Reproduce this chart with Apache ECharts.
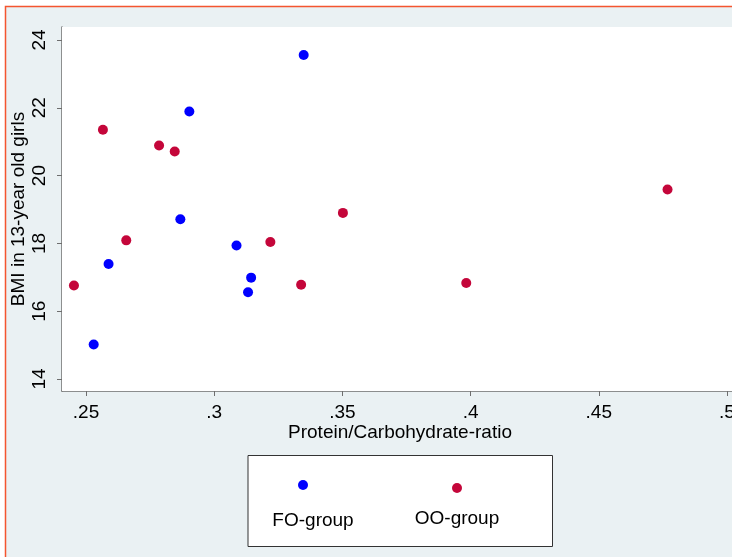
<!DOCTYPE html>
<html>
<head>
<meta charset="utf-8">
<script src="https://cdn.jsdelivr.net/npm/echarts@6/dist/echarts.min.js"></script>
<style>
html,body{margin:0;padding:0;overflow:hidden;background:#fff;}
#c{width:760px;height:580px;}
</style>
</head>
<body>
<div id="c"></div>
<script>
// FO-group: [Protein/Carbohydrate-ratio, BMI]
const foX = [0.2530, 0.2588, 0.2868, 0.2903, 0.3087, 0.3144, 0.3132, 0.3349];
const foY = [15.02, 17.39, 18.71, 21.89, 17.94, 16.99, 16.56, 23.56];
// OO-group
const ooX = [0.2453, 0.2566, 0.2657, 0.2785, 0.2846, 0.3219, 0.3339, 0.3502, 0.3983, 0.4768];
const ooY = [16.76, 21.35, 18.09, 20.89, 20.71, 18.04, 16.78, 18.90, 16.83, 19.59];
const xTicks = [0.25, 0.30, 0.35, 0.40, 0.45, 0.50];
const xTickLabels = ['.25', '.3', '.35', '.4', '.45', '.5'];
const yTicks = [14, 16, 18, 20, 22, 24];
const seriesNames = ['FO-group', 'OO-group'];
const xTitle = 'Protein/Carbohydrate-ratio';
const yTitle = 'BMI in 13-year old girls';

const FONT = '"Liberation Sans", Arial, Helvetica, sans-serif';
const BLUE = '#0000ff';
const RED = '#c4063a';

const chart = echarts.init(document.getElementById('c'), null, {renderer: 'canvas'});
const toPairs = (xs, ys) => xs.map((x, i) => [x, ys[i]]);

const option = {
  backgroundColor: '#ffffff',
  animation: false,
  grid: {
    left: 62, top: 27, width: 676, height: 364,
    containLabel: false, outerBoundsMode: 'none',
    show: true, backgroundColor: '#ffffff', borderWidth: 0, z: 1
  },
  xAxis: {
    type: 'value',
    min: 0.25 - 24 / 128.2 * 0.05,
    max: 0.25 + (738 - 86) / 128.2 * 0.05,
    name: xTitle,
    nameLocation: 'middle',
    nameGap: 32,
    nameMoveOverlap: false,
    nameTextStyle: {fontFamily: FONT, fontSize: 19, color: '#000'},
    axisLine: {show: true, onZero: false, lineStyle: {color: '#6e6e6e', width: 1.5}},
    axisTick: {show: true, length: 5, lineStyle: {color: '#6e6e6e', width: 1}, customValues: xTicks},
    axisLabel: {
      customValues: xTicks,
      fontFamily: FONT, fontSize: 19, color: '#000', margin: 12,
      formatter: v => { const i = xTicks.findIndex(t => Math.abs(t - v) < 1e-9); return i >= 0 ? xTickLabels[i] : ''; }
    },
    splitLine: {show: false}
  },
  yAxis: {
    type: 'value',
    min: 14 - 12 / 33.9,
    max: 24 + 13 / 33.9,
    name: yTitle,
    nameLocation: 'middle',
    nameGap: 34,
    nameMoveOverlap: false,
    nameRotate: 90,
    nameTextStyle: {fontFamily: FONT, fontSize: 19, color: '#000'},
    axisLine: {show: true, onZero: false, lineStyle: {color: '#6e6e6e', width: 1.5}},
    axisTick: {show: true, length: 5, lineStyle: {color: '#6e6e6e', width: 1}, customValues: yTicks},
    axisLabel: {
      customValues: yTicks,
      rotate: 90,
      fontFamily: FONT, fontSize: 19, color: '#000', margin: 13,
      formatter: v => String(Math.round(v))
    },
    splitLine: {show: true, lineStyle: {color: '#e6eef1', width: 1.5}}
  },
  series: [
    {
      name: seriesNames[0], type: 'scatter', symbol: 'circle', symbolSize: 10,
      itemStyle: {color: BLUE, opacity: 1}, z: 5,
      data: toPairs(foX, foY)
    },
    {
      name: seriesNames[1], type: 'scatter', symbol: 'circle', symbolSize: 10,
      itemStyle: {color: RED, opacity: 1}, z: 5,
      data: toPairs(ooX, ooY)
    }
  ],
  graphic: [
    {
      type: 'rect', z: -10, silent: true,
      shape: {x: 5.5, y: 6.5, width: 800, height: 700},
      style: {fill: '#eaf1f3', stroke: '#f4552f', lineWidth: 1.5}
    },
    {
      type: 'rect', z: 10, silent: true,
      shape: {x: 248, y: 455.5, width: 304.5, height: 91},
      style: {fill: '#ffffff', stroke: '#333333', lineWidth: 1}
    },
    {
      type: 'circle', z: 11, silent: true,
      shape: {cx: 303, cy: 485, r: 5}, style: {fill: BLUE}
    },
    {
      type: 'circle', z: 11, silent: true,
      shape: {cx: 457, cy: 488, r: 5}, style: {fill: RED}
    },
    {
      type: 'text', z: 11, silent: true, x: 313, y: 521,
      style: {text: seriesNames[0], font: '19px ' + FONT, fill: '#000', align: 'center', verticalAlign: 'middle'}
    },
    {
      type: 'text', z: 11, silent: true, x: 457, y: 519,
      style: {text: seriesNames[1], font: '19px ' + FONT, fill: '#000', align: 'center', verticalAlign: 'middle'}
    }
  ]
};
chart.setOption(option);
</script>
</body>
</html>
